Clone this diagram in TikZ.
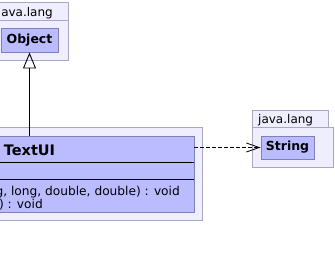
\documentclass[tikz,border=0pt]{standalone}
\usepackage{fontspec}
\setmainfont{DejaVu Sans}
\usetikzlibrary{arrows.meta}
\definecolor{pkgfill}{RGB}{238,238,255}
\definecolor{pkgline}{RGB}{168,168,196}
\definecolor{clsfill}{RGB}{187,187,255}
\definecolor{clsline}{RGB}{128,128,184}
\tikzset{
  pkg/.style={fill=pkgfill, draw=pkgline, line width=0.9pt},
  cls/.style={rectangle, fill=clsfill, draw=clsline, line width=0.9pt, inner sep=0pt},
  clsname/.style={font=\fontsize{12.5}{14}\selectfont\bfseries},
  member/.style={font=\fontsize{12.2}{14}\selectfont, inner sep=0pt},
  pkglabel/.style={font=\fontsize{12}{14}\selectfont, inner sep=0pt},
  generalization/.style={line width=0.9pt, -{Triangle[open, length=16pt, width=13pt, line width=0.9pt]}},
  dependency/.style={line width=0.8pt, dash pattern=on 4pt off 2pt, -{Straight Barb[length=13pt, width=9pt, line width=0.8pt]}}
}
\begin{document}
\begin{tikzpicture}[x=1pt, y=-1pt]
\useasboundingbox (0,0) rectangle (335,258);
\clip (0,0) rectangle (335,258);

% package java.lang holding Object
\draw[pkg] (-60,2) rectangle (68,20);
\draw[pkg] (-60,20) rectangle (68,60);
\node[pkglabel, anchor=base east] (pkgtop) at (53,16.5) {java.lang};
\node[cls, minimum width=57pt, minimum height=24pt, clsname] (obj) at (29.5,40) {Object};

% package holding TextUI
\draw[pkg] (-160,127) rectangle (202,220);
\node[cls, minimum width=329pt, minimum height=76pt] (ui) at (29.5,174) {};
\draw[line width=0.8pt] (-135,162) -- (194,162);
\draw[line width=0.8pt] (-135,179.5) -- (194,179.5);
\node[font=\fontsize{14.5}{16}\selectfont\bfseries, anchor=base, inner sep=0pt] (uiname) at (29.5,155) {TextUI};
\node[member, anchor=base east] (m1) at (180,195.5) {(String, long, double, double) : void};
\node[member, anchor=base east] (m2) at (43,208) {(String[]) : void};

% package java.lang holding String
\draw[pkg] (252,110) rectangle (328,127);
\draw[pkg] (252,127) rectangle (333,167);
\node[pkglabel, anchor=base west] (pkgright) at (258,123) {java.lang};
\node[cls, minimum width=53pt, minimum height=23pt, clsname] (str) at (287.5,147.5) {String};

% connectors
\draw[generalization] (ui.north) -- (obj.south);
\draw[dependency] (ui.east |- str.west) -- (str.west);
\end{tikzpicture}
\end{document}
